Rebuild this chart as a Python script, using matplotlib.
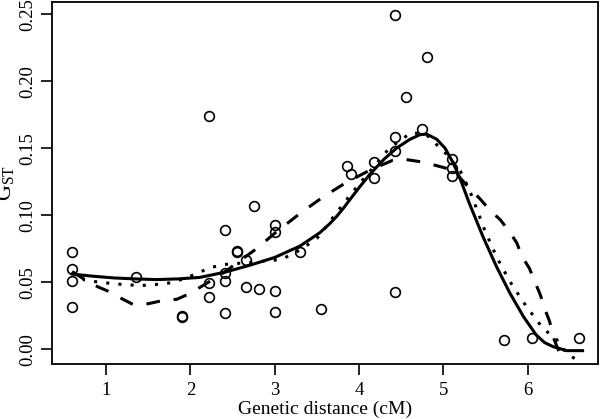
import numpy as np
import matplotlib
matplotlib.use("Agg")
import matplotlib.pyplot as plt

plt.rcParams['font.family'] = ['Liberation Serif', 'DejaVu Serif']
plt.rcParams['mathtext.fontset'] = 'custom'
plt.rcParams['mathtext.rm'] = 'Liberation Serif'

# observed points (genetic distance, G_ST)
dist = [0.597, 0.597, 0.597, 0.597, 1.352, 1.90, 1.90,
        2.217, 2.217, 2.217, 2.414, 2.414, 2.414, 2.414,
        2.548, 2.548, 2.655, 2.655, 2.754, 2.809,
        2.998, 2.998, 2.998, 2.998, 3.30, 3.551, 3.852, 3.903,
        4.175, 4.175, 4.424, 4.424, 4.424, 4.424, 4.558, 4.752, 4.80,
        5.103, 5.103, 5.103, 5.72, 6.05, 6.605]
gst = [0.0727, 0.0596, 0.0511, 0.0317, 0.0542, 0.0241, 0.0248,
       0.1738, 0.0494, 0.0391, 0.0891, 0.0571, 0.0512, 0.0270,
       0.0735, 0.0728, 0.0664, 0.0462, 0.1066, 0.0450,
       0.0928, 0.0878, 0.0433, 0.0280, 0.0726, 0.0297, 0.1368, 0.1309,
       0.1398, 0.1279, 0.2493, 0.1582, 0.1480, 0.0427, 0.1885, 0.1644, 0.2180,
       0.1420, 0.1353, 0.1294, 0.0067, 0.0087, 0.0082]

# fitted curves
solid_x = [0.6, 0.85, 1.1, 1.35, 1.6, 1.85, 2.11, 2.41, 2.71, 3.0, 3.3, 3.536,
           3.65, 3.733, 3.812, 3.89, 4.0, 4.128, 4.3, 4.444, 4.6, 4.72, 4.8,
           4.92, 5.02, 5.116, 5.2, 5.31, 5.47, 5.63, 5.79, 5.95, 6.1, 6.2,
           6.3, 6.46, 6.65]
solid_y = [0.0561, 0.0545, 0.0532, 0.0525, 0.0520, 0.0525, 0.0536, 0.0575,
           0.0628, 0.0685, 0.0770, 0.0870, 0.0935, 0.0990, 0.1050, 0.1115,
           0.1205, 0.1305, 0.1420, 0.1500, 0.1565, 0.1600, 0.1605, 0.1567,
           0.1500, 0.1390, 0.1270, 0.1085, 0.0839, 0.0616, 0.0417, 0.0243,
           0.0107, 0.0050, 0.0020, -0.0010, -0.0010]

dash_x = [0.6, 0.75, 0.9, 1.04, 1.18, 1.32, 1.5, 1.66, 1.84, 1.98, 2.16, 2.41,
          2.79, 3.02, 3.3, 3.575, 3.85, 4.13, 4.4, 4.55, 4.74, 4.9, 5.116,
          5.31, 5.43, 5.55, 5.67, 5.77, 5.87, 5.93, 6.02, 6.09, 6.15, 6.2,
          6.26, 6.3, 6.35, 6.38]
dash_y = [0.0578, 0.0520, 0.0467, 0.0430, 0.0380, 0.0335, 0.0340, 0.0362,
          0.0373, 0.0412, 0.0479, 0.0578, 0.0753, 0.0876, 0.1013, 0.1137,
          0.1245, 0.1336, 0.1410, 0.1416, 0.1398, 0.1373, 0.1336, 0.1200,
          0.1125, 0.1038, 0.0969, 0.0889, 0.0794, 0.0695, 0.0603, 0.0496,
          0.0405, 0.0305, 0.0206, 0.0094, 0.0015, -0.0030]

dot_x = [0.6, 0.75, 0.93, 1.1, 1.27, 1.45, 1.6, 1.77, 1.94, 2.09, 2.24, 2.41,
         2.75, 3.08, 3.3, 3.5, 3.61, 3.71, 3.91, 4.03, 4.36, 4.62, 4.8, 5.04,
         5.2, 5.31, 5.37, 5.49, 5.63, 5.79, 5.98, 6.18, 6.34, 6.46, 6.56, 6.66]
dot_y = [0.0578, 0.0516, 0.0500, 0.0489, 0.0480, 0.0477, 0.0484, 0.0496,
         0.0529, 0.0570, 0.0610, 0.0633, 0.0650, 0.0670, 0.0740, 0.0827,
         0.0914, 0.1000, 0.1162, 0.1254, 0.1500, 0.1617, 0.1600, 0.1453,
         0.1330, 0.1187, 0.1088, 0.0889, 0.0690, 0.0504, 0.0323, 0.0156,
         0.0075, -0.0030, -0.0070, -0.0130]

yticks = [0.00, 0.05, 0.10, 0.15, 0.20, 0.25]
xticks = [1, 2, 3, 4, 5, 6]

fig = plt.figure(figsize=(6.0, 4.19), dpi=100)
ax = fig.add_axes([0.0862, 0.1305, 0.9105, 0.864])

ax.plot(dist, gst, 'o', ms=7, mfc='none', mec='black', mew=1.2, zorder=3)
ax.plot(solid_x, solid_y, '-', color='black', lw=2.2, zorder=4)
ax.plot(dash_x, dash_y, color='black', lw=2.2, ls=(0, (4.5, 4.5)), zorder=4)
ax.plot(dot_x, dot_y, color='black', lw=2.2, ls=(0, (1, 3)), zorder=4)

ax.set_xlim(0.357, 6.833)
ax.set_ylim(-0.0112, 0.2588)
ax.set_xticks(xticks)
ax.set_xticklabels([str(t) for t in xticks])
ax.set_yticks(yticks)
ax.set_yticklabels(['%.2f' % t for t in yticks], rotation=90, va='center')

for s in ax.spines.values():
    s.set_linewidth(1.3)
ax.tick_params(direction='out', length=8, width=1.2, labelsize=13.5)
ax.tick_params(axis='x', pad=5)
ax.tick_params(axis='y', pad=3)

ax.set_xlabel('Genetic distance (cM)', fontsize=14, labelpad=1)
ax.set_ylabel(r'$\mathrm{G}_{\mathrm{ST}}$', fontsize=16, labelpad=2)

fig.savefig('out.png', dpi=100)
